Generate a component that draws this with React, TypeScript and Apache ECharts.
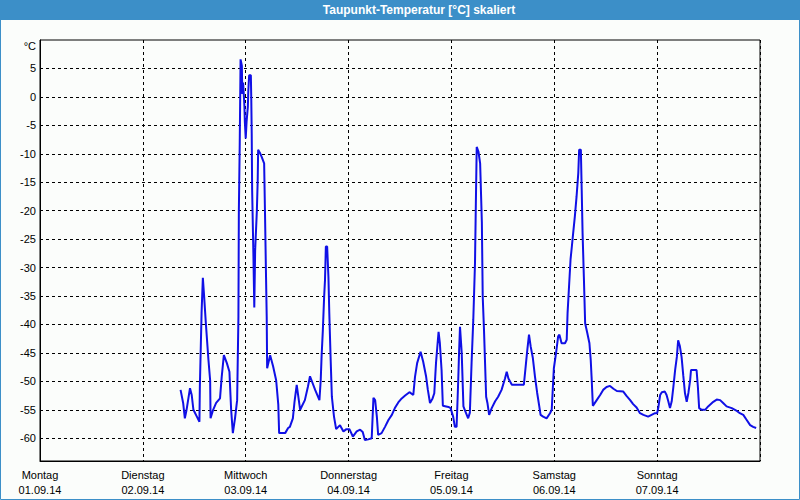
import React, { useEffect, useRef } from "react";
import * as echarts from "echarts";

const TITLE = "Taupunkt-Temperatur [°C] skaliert";
const UNIT = "°C";
const DAY_NAMES = ["Montag", "Dienstag", "Mittwoch", "Donnerstag", "Freitag", "Samstag", "Sonntag"];
const DAY_DATES = ["01.09.14", "02.09.14", "03.09.14", "04.09.14", "05.09.14", "06.09.14", "07.09.14"];
const Y_TICKS = [5, 0, -5, -10, -15, -20, -25, -30, -35, -40, -45, -50, -55, -60];

// hours since Montag 01.09.14 00:00
const HOURS = [
  32.8, 33.4, 33.8, 34.2, 35.0, 35.4, 35.8, 36.6, 37.2, 37.3, 37.5, 37.7, 38.0, 38.3, 38.7, 39.3, 39.7, 39.8,
  40.4, 41.1, 42.0, 42.4, 42.9, 43.6, 44.2, 44.6, 45.0, 45.5, 46.0, 46.3, 46.4, 46.6, 46.8, 47.1, 47.2, 47.4,
  47.7, 47.8, 48.0, 48.2, 48.5, 48.6, 48.8, 49.2, 49.3, 49.4, 49.5, 49.8, 50.0, 50.2, 50.6, 50.8, 50.9, 51.3,
  51.7, 52.3, 52.5, 52.7, 52.9, 53.0, 53.7, 54.4, 55.1, 55.3, 55.6, 55.8, 57.2, 57.9, 58.3, 59.0, 59.4, 59.9,
  60.7, 61.8, 62.5, 63.0, 64.2, 65.2, 65.5, 65.7, 66.0, 66.3, 66.5, 66.7, 67.0, 67.3, 67.5, 67.8, 68.1, 68.6,
  69.1, 70.0, 70.8, 71.5, 72.2, 73.0, 73.9, 74.7, 75.3, 75.8, 76.6, 77.4, 77.8, 78.2, 78.6, 78.9, 79.7, 80.5,
  81.3, 82.1, 82.8, 83.6, 84.4, 85.2, 86.2, 87.1, 87.5, 88.0, 88.8, 89.4, 90.1, 90.5, 91.0, 91.6, 92.0, 92.4,
  92.7, 93.0, 93.3, 93.7, 94.0, 95.3, 95.8, 96.4, 96.8, 97.2, 97.4, 97.6, 97.8, 98.0, 98.4, 98.8, 99.2, 99.9,
  100.3, 100.7, 101.1, 101.5, 101.7, 101.9, 102.3, 102.7, 103.1, 103.3, 103.6, 104.1, 104.4, 104.8, 105.4,
  106.2, 106.9, 107.7, 108.5, 108.9, 109.3, 110.1, 111.2, 112.9, 113.4, 113.7, 114.1, 114.5, 115.0, 115.5,
  116.0, 116.5, 116.8, 117.4, 118.2, 119.0, 119.4, 119.6, 119.9, 120.4, 120.9, 121.2, 121.7, 122.5, 122.9,
  123.1, 123.4, 123.8, 124.1, 124.4, 124.8, 125.2, 125.6, 125.8, 126.2, 126.4, 126.6, 126.9, 127.2, 127.7,
  128.2, 128.5, 128.7, 129.0, 129.9, 130.7, 131.4, 132.2, 133.0, 133.8, 134.6, 136.1, 136.9, 137.7, 138.4,
  139.2, 140.0, 140.8, 141.9, 142.7, 143.5, 144.0, 144.3, 144.7, 145.1, 145.8, 146.2, 146.6, 147.0, 147.4,
  147.8, 148.2, 148.6, 148.9, 149.3, 149.7, 150.1, 150.5, 150.9, 151.3, 151.7, 151.9, 153.2, 153.5, 153.8,
  154.4, 155.2, 155.9, 157.1, 157.9, 158.7, 159.4, 160.2, 161.4, 162.6, 163.3, 164.1, 164.9, 165.7, 166.4, 167.1,
];

const DEWPOINT = [
  -51.5, -53.8, -56.5, -55.0, -51.2, -52.4, -55.0, -56.2, -57.1, -50.9, -44.5, -38.0, -31.8, -35.1, -39.8, -46.2, -49.8, -56.5,
  -55.0, -53.8, -53.0, -49.2, -45.4, -46.8, -48.3, -55.0, -59.1, -56.5, -53.3, -38.6, -20.0, -8.5, 6.6, 5.5, 0.5, 2.5,
  -1.7, -4.4, -7.3, -4.4, -1.7, 1.0, 3.8, 3.8, -0.5, -6.4, -16.4, -28.0, -37.0, -27.0, -20.0, -14.6, -9.3, -9.8,
  -10.5, -11.7, -20.4, -29.8, -38.6, -47.7, -45.4, -47.4, -49.8, -51.5, -54.1, -59.1, -59.1, -58.2, -58.0, -56.5, -53.5, -50.6,
  -55.0, -53.3, -51.0, -49.1, -51.5, -53.3, -49.8, -45.7, -41.0, -35.1, -32.2, -26.3, -26.3, -31.6, -38.0, -45.7, -52.7, -56.2,
  -58.4, -57.7, -58.8, -58.4, -58.4, -59.7, -58.8, -58.5, -58.9, -60.3, -60.2, -60.0, -52.9, -53.3, -56.2, -59.4, -59.1, -58.0,
  -56.8, -55.9, -54.7, -53.7, -53.0, -52.5, -51.9, -52.4, -49.2, -46.8, -44.8, -46.5, -49.2, -51.5, -53.8, -53.0, -52.1, -46.8,
  -44.0, -41.3, -43.3, -48.0, -54.3, -54.5, -54.7, -56.2, -58.0, -58.0, -53.9, -49.5, -44.5, -40.4, -45.0, -54.4, -55.2, -56.5,
  -55.5, -46.8, -39.2, -29.2, -18.7, -8.8, -9.6, -11.7, -22.0, -35.1, -41.0, -52.7, -53.8, -55.9, -54.7,
  -53.5, -52.7, -51.5, -49.5, -48.3, -49.5, -50.6, -50.6, -50.6, -46.8, -44.5, -41.8, -43.9, -45.9, -49.2,
  -52.0, -54.4, -55.9, -56.2, -56.5, -55.6, -55.0, -52.1, -47.7, -45.1, -42.1, -41.8, -43.3, -43.3, -42.7,
  -38.0, -33.9, -28.5, -26.3, -24.0, -21.0, -17.5, -13.4, -9.3, -9.3, -16.4, -23.9, -31.6, -39.8, -41.5,
  -43.3, -46.2, -49.2, -54.3, -53.3, -52.4, -51.5, -51.0, -50.8, -51.3, -51.7, -51.8, -52.6, -53.3, -54.0,
  -54.6, -55.6, -55.9, -56.2, -55.9, -55.6, -55.6, -54.5, -52.4, -51.9, -51.8, -52.4, -53.5, -54.7, -53.5,
  -50.9, -48.0, -45.7, -42.8, -43.8, -45.7, -49.0, -52.1, -53.6, -52.0, -49.8, -48.0, -48.0, -50.9, -54.7,
  -55.0, -55.0, -54.4, -53.6, -53.2, -53.3, -53.8, -54.4, -54.7, -55.2, -55.6, -55.9, -56.8, -57.7, -58.0, -58.2,
];

const FONT = "Liberation Sans";

export default function App() {
  const ref = useRef<HTMLDivElement>(null);
  useEffect(() => {
    document.body.style.margin = "0";
    if (!ref.current) return;
    const chart = echarts.init(ref.current, undefined, { renderer: "svg" });
    const data = HOURS.map((h, i) => [h, DEWPOINT[i]]);
    chart.setOption({
      animation: false,
      backgroundColor: "#fbfdfb",
      textStyle: { fontFamily: FONT },
      graphic: [
        {
          type: "rect",
          shape: { x: 0, y: 0, width: 800, height: 20 },
          style: { fill: "#3c8fc8" },
          z: 0,
        },
        {
          type: "rect",
          shape: { x: 0.5, y: 0.5, width: 799, height: 499 },
          style: { fill: "none", stroke: "#3c8fc8", lineWidth: 1 },
          z: 0,
        },
        {
          type: "text",
          x: 419,
          y: 10,
          style: {
            text: TITLE,
            fill: "#ffffff",
            font: `bold 12px ${FONT}`,
            textAlign: "center",
            textVerticalAlign: "middle",
          },
          z: 1,
        },
        {
          type: "text",
          x: 36,
          y: 46,
          style: {
            text: UNIT,
            fill: "#000",
            font: `11px ${FONT}`,
            textAlign: "right",
            textVerticalAlign: "middle",
          },
        },
      ],
      grid: {
        left: 40,
        top: 40,
        right: 40,
        bottom: 39,
        show: true,
        borderColor: "#000",
        borderWidth: 1,
        backgroundColor: "transparent",
      },
      xAxis: {
        type: "value",
        min: 0,
        max: 168,
        interval: 24,
        axisLine: { show: true, onZero: false, lineStyle: { color: "#000", width: 1 } },
        axisTick: { show: false },
        splitLine: { show: true, lineStyle: { color: "#000", type: [3, 3], width: 1 } },
        axisLabel: {
          show: true,
          showMaxLabel: false,
          color: "#000",
          fontSize: 11,
          fontFamily: FONT,
          lineHeight: 15,
          margin: 6,
          formatter: (v: number) => {
            const i = Math.round(v / 24);
            if (i < 0 || i >= DAY_NAMES.length) return "";
            return DAY_NAMES[i] + "\n" + DAY_DATES[i];
          },
        },
      },
      yAxis: {
        type: "value",
        min: -64,
        max: 10,
        axisLine: { show: true, onZero: false, lineStyle: { color: "#000", width: 1 } },
        axisTick: { show: false, customValues: Y_TICKS },
        splitLine: { show: true, lineStyle: { color: "#000", type: [3, 3], width: 1 } },
        axisLabel: {
          customValues: Y_TICKS,
          color: "#000",
          fontSize: 11,
          fontFamily: FONT,
          margin: 4,
        },
      },
      series: [
        {
          type: "line",
          data,
          showSymbol: false,
          symbol: "none",
          lineStyle: { color: "#1010e6", width: 2 },
          z: 3,
        },
      ],
    });
    return () => chart.dispose();
  }, []);
  return <div ref={ref} style={{ width: 800, height: 500 }} />;
}
